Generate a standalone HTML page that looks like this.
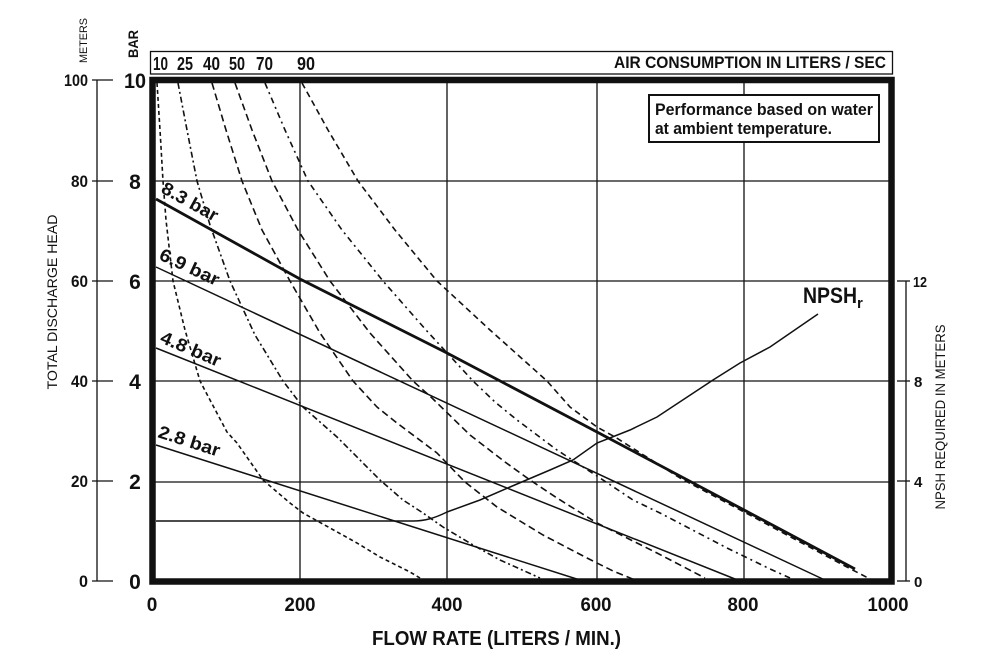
<!DOCTYPE html>
<html><head><meta charset="utf-8"><style>
html,body{margin:0;padding:0;background:#fff;}
svg{display:block;}
text{font-family:"Liberation Sans",sans-serif;fill:#111;}
.b{font-weight:bold;}
</style></head><body>
<svg width="1005" height="657" viewBox="0 0 1005 657" xmlns="http://www.w3.org/2000/svg">
<rect width="1005" height="657" fill="#fff"/>

<!-- top air consumption box -->
<rect x="150.5" y="51.5" width="742" height="22.5" fill="none" stroke="#111" stroke-width="1.3"/>
<g class="b" font-size="18">
<text x="153" y="70" textLength="15" lengthAdjust="spacingAndGlyphs" class="b">10</text>
<text x="177" y="70" textLength="16" lengthAdjust="spacingAndGlyphs" class="b">25</text>
<text x="203" y="70" textLength="17" lengthAdjust="spacingAndGlyphs" class="b">40</text>
<text x="229" y="70" textLength="16" lengthAdjust="spacingAndGlyphs" class="b">50</text>
<text x="256" y="70" textLength="17" lengthAdjust="spacingAndGlyphs" class="b">70</text>
<text x="297" y="70" textLength="18" lengthAdjust="spacingAndGlyphs" class="b">90</text>
</g>
<text x="614" y="68" font-size="17" class="b" textLength="272" lengthAdjust="spacingAndGlyphs">AIR CONSUMPTION IN LITERS / SEC</text>

<!-- grid -->
<g stroke="#111" stroke-width="1.3" fill="none">
<line x1="300" y1="80" x2="300" y2="581"/>
<line x1="447" y1="80" x2="447" y2="581"/>
<line x1="597" y1="80" x2="597" y2="581"/>
<line x1="744" y1="80" x2="744" y2="581"/>
<line x1="153" y1="181" x2="891" y2="181"/>
<line x1="153" y1="281" x2="891" y2="281"/>
<line x1="153" y1="381" x2="891" y2="381"/>
<line x1="153" y1="482" x2="891" y2="482"/>
</g>

<!-- performance box -->
<rect x="649" y="95" width="230" height="47" fill="#fff" stroke="#111" stroke-width="2"/>
<text x="655" y="115" font-size="17" class="b" textLength="218" lengthAdjust="spacingAndGlyphs">Performance based on water</text>
<text x="655" y="134" font-size="17" class="b" textLength="177" lengthAdjust="spacingAndGlyphs">at ambient temperature.</text>

<!-- air consumption curves -->
<g fill="none" stroke="#111" stroke-width="1.6" stroke-linejoin="round">
<polyline stroke-dasharray="4 3" points="157,83 160,130 163,181 166,220 173,281 185,330 200,381 210,400 227,432 237,443 263,480 290,503 303,513 330,528 357,543 380,557 410,572 420,578"/>
<polyline stroke-dasharray="6 3 2 3" points="178,83 187,130 197,181 210,225 230,281 255,335 283,381 303,407 337,437 363,463 380,480 403,500 423,513 443,527 473,545 500,560 540,578"/>
<polyline stroke-dasharray="7 4" points="212,83 226,130 242,181 262,230 290,281 320,333 353,381 377,407 397,423 437,453 465,482 497,507 543,535 587,558 613,571 635,580"/>
<polyline stroke-dasharray="7 4" points="235,83 252,130 272,181 298,230 330,281 370,333 413,381 432,398 470,435 505,462 530,480 557,498 597,523 627,538 657,553 705,578"/>
<polyline stroke-dasharray="6 4 2 4" points="265,83 285,130 308,181 342,230 383,281 426,330 473,381 495,402 517,420 557,450 600,478 633,500 660,513 683,525 727,548 768,568 790,578"/>
<polyline stroke-dasharray="6 4" points="302,83 328,130 358,181 395,230 437,281 490,330 547,381 570,407 597,427 615,437 680,478 746,513 800,542 845,566 872,580"/>
</g>

<!-- pressure lines -->
<g fill="none" stroke="#111">
<polyline stroke-width="2.8" points="156,199 300,279 447,353 597,432 746,511 855,569"/>
<line stroke-width="1.5" x1="156" y1="267" x2="827" y2="581"/>
<line stroke-width="1.5" x1="156" y1="348" x2="740" y2="581"/>
<line stroke-width="1.5" x1="156" y1="445" x2="583" y2="581"/>
<path stroke-width="1.5" d="M156,521 L413,521 C425,521 435,518 447,512 L480,500 L510,487 L550,470 L573,460 L597,443 L630,430 L657,417 L713,380 L740,363 L770,347 L818,314"/>
</g>

<!-- curve labels -->
<g font-size="18" class="b">
<text class="b" transform="translate(160,192) rotate(29)" textLength="62" lengthAdjust="spacingAndGlyphs">8.3 bar</text>
<text class="b" transform="translate(158,259) rotate(25)" textLength="64" lengthAdjust="spacingAndGlyphs">6.9 bar</text>
<text class="b" transform="translate(159,342) rotate(23)" textLength="64" lengthAdjust="spacingAndGlyphs">4.8 bar</text>
<text class="b" transform="translate(157,437) rotate(18)" textLength="64" lengthAdjust="spacingAndGlyphs">2.8 bar</text>
</g>
<text x="803" y="303" font-size="22" class="b" textLength="54" lengthAdjust="spacingAndGlyphs">NPSH</text>
<text x="857" y="308" font-size="15" class="b">r</text>

<!-- main frame -->
<rect x="152.5" y="80" width="739" height="501.5" fill="none" stroke="#111" stroke-width="6.5"/>

<!-- left axis -->
<g stroke="#111" stroke-width="1.3">
<line x1="97" y1="80" x2="97" y2="581"/>
<line x1="92" y1="80" x2="113" y2="80"/>
<line x1="92" y1="181" x2="113" y2="181"/>
<line x1="92" y1="281" x2="113" y2="281"/>
<line x1="92" y1="381" x2="113" y2="381"/>
<line x1="92" y1="481" x2="113" y2="481"/>
<line x1="92" y1="581" x2="113" y2="581"/>
</g>
<g font-size="17" class="b" text-anchor="end">
<text class="b" x="88" y="86" textLength="24" lengthAdjust="spacingAndGlyphs">100</text>
<text class="b" x="88" y="187" textLength="17" lengthAdjust="spacingAndGlyphs">80</text>
<text class="b" x="88" y="287" textLength="17" lengthAdjust="spacingAndGlyphs">60</text>
<text class="b" x="88" y="387" textLength="17" lengthAdjust="spacingAndGlyphs">40</text>
<text class="b" x="88" y="487" textLength="17" lengthAdjust="spacingAndGlyphs">20</text>
<text class="b" x="88" y="587" textLength="9" lengthAdjust="spacingAndGlyphs">0</text>
</g>
<g font-size="21" class="b" text-anchor="middle">
<text class="b" x="135" y="88" textLength="22" lengthAdjust="spacingAndGlyphs">10</text>
<text class="b" x="135" y="189">8</text>
<text class="b" x="135" y="289">6</text>
<text class="b" x="135" y="389">4</text>
<text class="b" x="135" y="489">2</text>
<text class="b" x="135" y="589">0</text>
</g>
<text transform="translate(87,40.5) rotate(-90)" font-size="11" text-anchor="middle" textLength="45" lengthAdjust="spacingAndGlyphs">METERS</text>
<text transform="translate(138,44) rotate(-90)" font-size="14" class="b" text-anchor="middle" textLength="28" lengthAdjust="spacingAndGlyphs">BAR</text>
<text transform="translate(57,302) rotate(-90)" font-size="13.5" text-anchor="middle" textLength="175" lengthAdjust="spacingAndGlyphs">TOTAL DISCHARGE HEAD</text>

<!-- right axis -->
<g stroke="#111" stroke-width="1.3">
<line x1="906" y1="281" x2="906" y2="581"/>
<line x1="897" y1="281" x2="910" y2="281"/>
<line x1="897" y1="381" x2="910" y2="381"/>
<line x1="897" y1="481" x2="910" y2="481"/>
<line x1="897" y1="581" x2="910" y2="581"/>
</g>
<g font-size="15" class="b">
<text class="b" x="913" y="287" textLength="14" lengthAdjust="spacingAndGlyphs">12</text>
<text class="b" x="914" y="387">8</text>
<text class="b" x="914" y="487">4</text>
<text class="b" x="914" y="587">0</text>
</g>
<text transform="translate(945,417) rotate(-90)" font-size="14" text-anchor="middle" textLength="185" lengthAdjust="spacingAndGlyphs">NPSH REQUIRED IN METERS</text>

<!-- bottom axis -->
<g font-size="19" class="b" text-anchor="middle">
<text class="b" x="152" y="611">0</text>
<text class="b" x="300" y="611" textLength="31" lengthAdjust="spacingAndGlyphs">200</text>
<text class="b" x="447" y="611" textLength="31" lengthAdjust="spacingAndGlyphs">400</text>
<text class="b" x="596" y="611" textLength="31" lengthAdjust="spacingAndGlyphs">600</text>
<text class="b" x="743" y="611" textLength="31" lengthAdjust="spacingAndGlyphs">800</text>
<text class="b" x="888" y="611" textLength="41" lengthAdjust="spacingAndGlyphs">1000</text>
</g>
<text x="372" y="645" font-size="20" class="b" textLength="249" lengthAdjust="spacingAndGlyphs">FLOW RATE (LITERS / MIN.)</text>
</svg>
</body></html>
